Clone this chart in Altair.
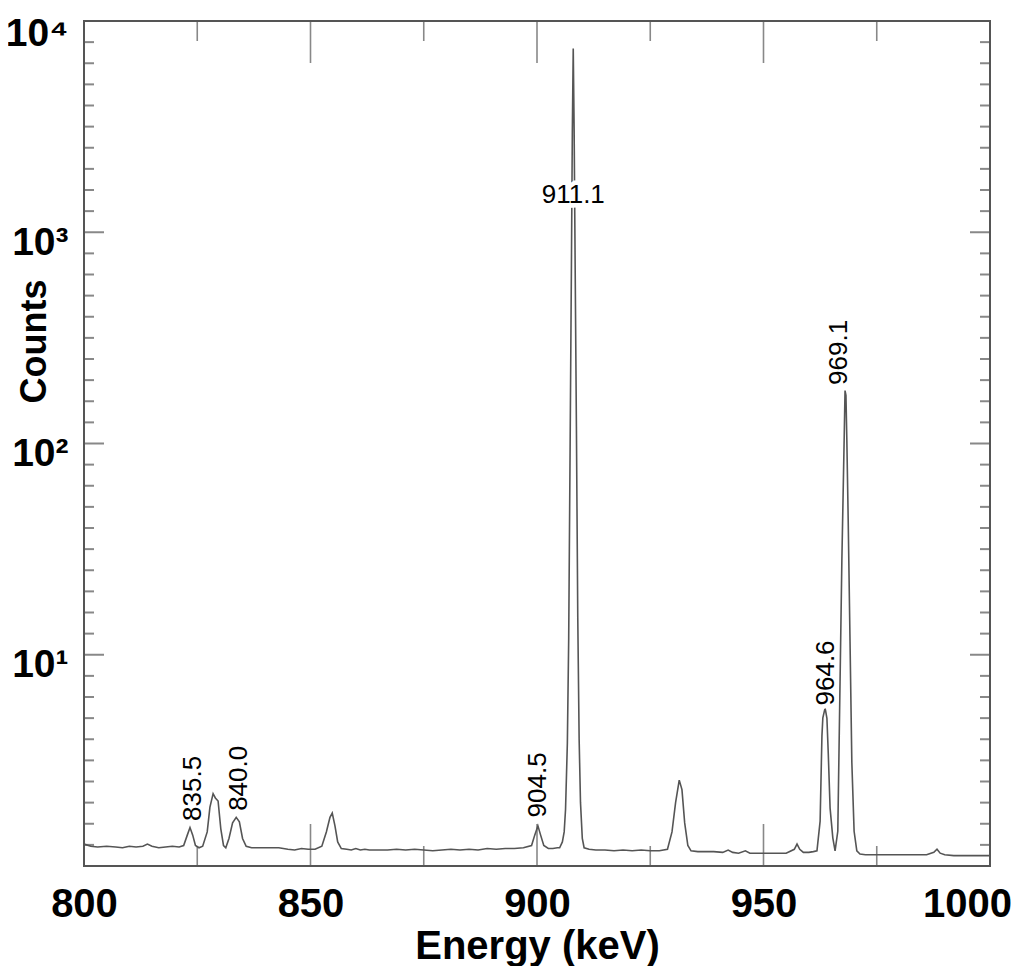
import altair as alt
import pandas as pd

# ---- spectrum (energy keV, counts) ----
energy = [
    800.0, 801.5, 803.0, 805.0, 807.0, 808.5, 810.0, 811.5, 813.0, 814.0, 815.0, 816.5,
    818.0, 819.5, 821.0, 822.0, 822.8, 823.4, 824.0, 824.6, 825.4, 826.2, 827.2, 827.8,
    828.5, 829.0, 829.6, 830.2, 830.8, 831.3, 832.0, 832.8, 833.6, 834.3, 835.0, 835.8,
    837.0, 839.0, 841.0, 843.0, 845.0, 846.5, 848.0, 849.5, 851.0, 852.5, 853.5, 854.3,
    854.8, 855.4, 856.0, 856.8, 858.0, 859.0, 860.0, 861.0, 862.0, 863.0, 865.0, 867.0,
    869.0, 871.0, 873.0, 875.0, 877.0, 879.0, 881.0, 883.0, 885.0, 887.0, 889.0, 891.0,
    893.0, 895.0, 897.0, 898.8, 899.5, 900.2, 900.8, 901.5, 902.5, 903.5, 904.5, 905.0,
    905.6, 906.0, 906.3, 906.7, 907.0, 907.3, 907.6, 907.8, 908.0, 908.2, 908.4, 908.7,
    909.0, 909.3, 909.6, 910.0, 910.4, 911.5, 913.0, 915.0, 917.0, 919.0, 921.0, 923.0,
    925.0, 927.0, 928.8, 929.8, 930.6, 931.4, 932.0, 932.6, 933.3, 934.0, 935.5, 937.0,
    939.0, 941.0, 942.2, 943.2, 944.5, 946.0, 947.0, 949.0, 951.0, 953.0, 955.0, 956.8,
    957.4, 958.0, 958.8, 960.0, 961.0, 961.8, 962.5, 962.9, 963.1, 963.6, 964.0, 964.3,
    964.7, 965.3, 965.8, 966.4, 966.9, 967.3, 967.8, 968.0, 968.2, 968.4, 968.7, 969.1,
    969.5, 970.0, 970.6, 971.3, 972.5, 974.0, 976.0, 978.0, 980.0, 982.0, 984.0, 986.0,
    987.6, 988.3, 989.0, 990.0, 992.0, 994.0, 996.0, 998.0, 1000.0,
]
counts = [
    1.27, 1.24, 1.23, 1.24, 1.23, 1.22, 1.24, 1.23, 1.24, 1.27, 1.24, 1.22,
    1.23, 1.24, 1.23, 1.25, 1.40, 1.52, 1.40, 1.25, 1.22, 1.24, 1.45, 1.90,
    2.20, 2.10, 2.03, 1.50, 1.25, 1.22, 1.35, 1.60, 1.70, 1.62, 1.35, 1.24,
    1.22, 1.22, 1.22, 1.22, 1.20, 1.19, 1.21, 1.20, 1.20, 1.24, 1.45, 1.70,
    1.78, 1.55, 1.30, 1.21, 1.20, 1.19, 1.21, 1.19, 1.20, 1.19, 1.19, 1.19,
    1.20, 1.19, 1.20, 1.19, 1.18, 1.19, 1.20, 1.19, 1.20, 1.19, 1.21, 1.20,
    1.21, 1.21, 1.22, 1.25, 1.40, 1.55, 1.40, 1.25, 1.21, 1.21, 1.22, 1.22,
    1.30, 1.45, 1.85, 3.8, 12.0, 90.0, 700.0, 3000.0, 7400.0, 3000.0, 800.0, 120.0,
    15.0, 4.0, 2.0, 1.35, 1.22, 1.20, 1.19, 1.19, 1.18, 1.19, 1.18, 1.19,
    1.18, 1.18, 1.20, 1.45, 2.00, 2.55, 2.30, 1.60, 1.25, 1.18, 1.17, 1.17,
    1.17, 1.16, 1.19, 1.16, 1.15, 1.18, 1.15, 1.15, 1.15, 1.15, 1.15, 1.20,
    1.27, 1.20, 1.16, 1.16, 1.17, 1.18, 1.63, 4.13, 5.03, 5.60, 5.00, 3.40,
    1.88, 1.36, 1.18, 1.46, 7.5, 28.0, 103.0, 178.0, 169.0, 103.0, 43.0, 11.6,
    3.1, 1.46, 1.18, 1.14, 1.13, 1.13, 1.13, 1.13, 1.13, 1.13, 1.13, 1.13,
    1.16, 1.20, 1.15, 1.13, 1.12, 1.12, 1.12, 1.12, 1.12,
]

# ---- peak labels ----
label_text = ["835.5", "840.0", "904.5", "911.1", "964.6", "969.1"]
label_energy = [824.0, 834.2, 900.3, 908.0, 963.8, 966.7]
label_counts = [2.33, 2.6, 2.42, 1500.0, 8.2, 270.0]
label_angle = [270, 270, 270, 0, 270, 270]

# ---- axis ticks ----
x_label_values = [800, 850, 900, 950, 1000]
x_major_ticks = [850, 900, 950]
x_minor_ticks = [825, 875, 925, 975]
y_label_values = [10, 100, 1000, 10000]
y_major_ticks = [10, 100, 1000]
y_minor_ticks = [10 ** (k + i / 10) for k in range(4) for i in range(1, 10)]

W, H = 906, 845
FONT = "Liberation Sans"
GRAY = "#555555"

spec = pd.DataFrame({"energy": energy, "counts": counts})
labels = pd.DataFrame({"energy": label_energy, "counts": label_counts,
                       "text": label_text, "angle": label_angle})
xmaj = pd.DataFrame({"energy": x_major_ticks})
xmin = pd.DataFrame({"energy": x_minor_ticks})
ymaj = pd.DataFrame({"counts": y_major_ticks})
ymin = pd.DataFrame({"counts": y_minor_ticks})

xscale = alt.Scale(domain=[800, 1000], nice=False, zero=False)
yscale = alt.Scale(type="log", domain=[1, 10000], nice=False)

x_axis = alt.Axis(
    values=x_label_values, format="d", title="Energy (keV)", ticks=False, domain=False,
    grid=False, labelFont=FONT, labelFontWeight="bold", labelFontSize=40, labelPadding=18,
    labelColor="black", labelFlush=False,
    labelOffset={"condition": {"test": "datum.value == 1000", "value": -23}, "value": 0},
    titleFont=FONT, titleFontWeight="bold", titleFontSize=40, titleColor="black",
    titleBaseline="alphabetic", titleY=92,
)
y_axis = alt.Axis(
    values=y_label_values, ticks=False, domain=False, grid=False,
    labelExpr="datum.value >= 10000 ? '10⁴' : datum.value >= 1000 ? '10³' : datum.value >= 100 ? '10²' : '10¹'",
    labelFont=FONT, labelFontWeight="bold", labelFontSize=39, labelPadding=16,
    labelOffset={"condition": {"test": "datum.value >= 10000", "value": 12}, "value": 10},
    labelColor="black", labelFlush=False,
    title="Counts", titleFont=FONT, titleFontWeight="bold", titleFontSize=36,
    titleColor="black", titleBaseline="alphabetic", titleAngle=270, titleX=-39, titleY=320,
)

X = alt.X("energy:Q", scale=xscale, axis=x_axis)
Y = alt.Y("counts:Q", scale=yscale, axis=y_axis)

line = alt.Chart(spec).mark_line(color=GRAY, strokeWidth=1.6, clip=True).encode(
    x=X, y=Y, order="energy:Q",
)

def ytick(df, size, xpos):
    return alt.Chart(df).mark_tick(orient="horizontal", size=size, thickness=2,
                                   color=GRAY, clip=True).encode(y=Y, x=alt.value(xpos))

def xtick(df, size, ypos):
    return alt.Chart(df).mark_tick(orient="vertical", size=size, thickness=1.6,
                                   color=GRAY, clip=True).encode(x=X, y=alt.value(ypos))

ticks = [
    ytick(ymaj, 40, 0), ytick(ymaj, 40, W), ytick(ymin, 20, 0), ytick(ymin, 20, W),
    xtick(xmaj, 84, 0), xtick(xmaj, 84, H), xtick(xmin, 40, 0), xtick(xmin, 40, H),
]

halo = alt.Chart(labels).mark_text(font=FONT, fontSize=26, color="white", stroke="white",
                                   strokeWidth=9, align="center", baseline="middle").encode(
    x=X, y=Y, text="text:N", angle=alt.Angle("angle:Q", scale=None),
)
text = alt.Chart(labels).mark_text(font=FONT, fontSize=26, color="black",
                                   align="center", baseline="middle").encode(
    x=X, y=Y, text="text:N", angle=alt.Angle("angle:Q", scale=None),
)

chart = alt.layer(line, *ticks, halo, text).properties(
    width=W, height=H, background="white",
    autosize=alt.AutoSizeParams(type="none"),
    padding={"left": 76, "top": 13, "right": 26, "bottom": 100},
).configure_view(stroke=GRAY, strokeWidth=2)

chart.save("out.html", embed_options={"renderer": "svg", "actions": False})
